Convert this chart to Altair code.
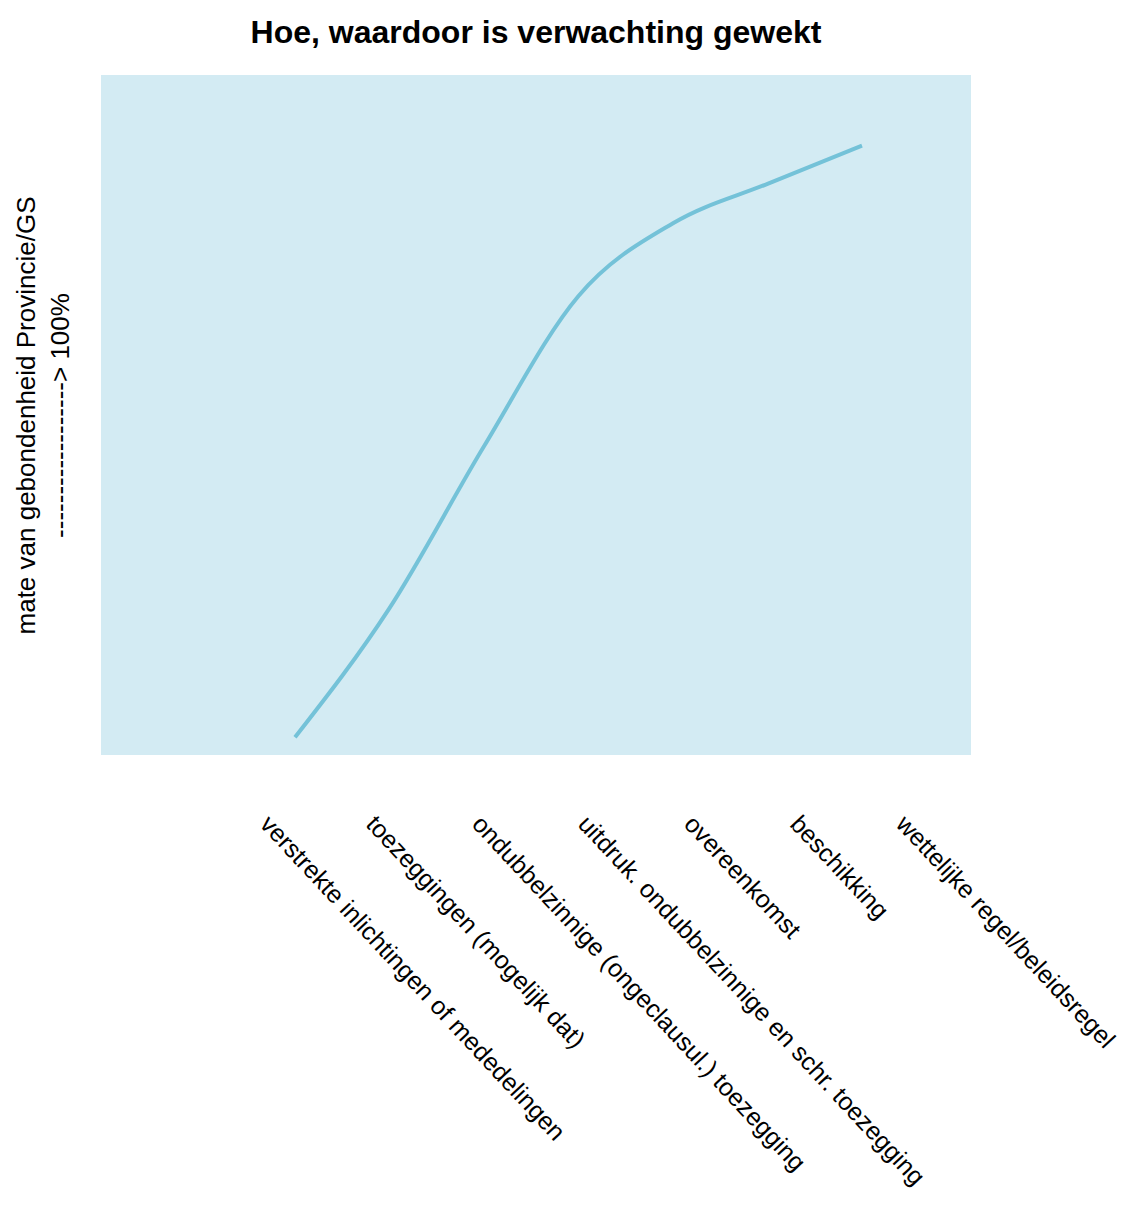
import altair as alt
import pandas as pd

categories = [
    "verstrekte inlichtingen of mededelingen",
    "toezeggingen (mogelijk dat)",
    "ondubbelzinnige (ongeclausul.) toezegging",
    "uitdruk. ondubbelzinnige en schr. toezegging",
    "overeenkomst",
    "beschikking",
    "wettelijke regel/beleidsregel",
]
binding = [2.6, 21.6, 45.4, 67.5, 78.2, 84.0, 89.6]

y_title = ["mate van gebondenheid Provincie/GS", "------------------> 100%"]
chart_title = "Hoe, waardoor is verwachting gewekt"

df = pd.DataFrame({"categorie": categories, "gebondenheid": binding})

FONT = "Liberation Sans"

line = alt.Chart(df).mark_line(
    color="#74c2d8", strokeWidth=4, interpolate="monotone"
).encode(
    x=alt.X("categorie:N", sort=categories,
            scale=alt.Scale(type="point", padding=0, range=[194, 761]),
            axis=None),
    y=alt.Y("gebondenheid:Q", scale=alt.Scale(domain=[0, 100]),
            axis=alt.Axis(title=y_title, labels=False, ticks=False, domain=False,
                          grid=False, titleFontSize=26, titleFont=FONT,
                          titleFontWeight="normal", titleColor="black",
                          titleLineHeight=34, titlePadding=28)),
)

labels = alt.Chart(df).mark_point(opacity=0).encode(
    x=alt.X("categorie:N", sort=categories,
            scale=alt.Scale(type="point", padding=0, range=[172, 808]),
            axis=alt.Axis(title=None, orient="bottom", labelAngle=47,
                          labelAlign="left", labelBaseline="top",
                          labelPadding=56, ticks=False, domain=False, grid=False,
                          labelFontSize=25, labelFont=FONT, labelColor="black",
                          labelLimit=1000, labelOverlap=False)),
)

chart = alt.layer(line, labels).resolve_scale(x="independent").properties(
    width=870,
    height=680,
    padding={"left": 5, "top": 9, "right": 5, "bottom": 5},
    title=alt.TitleParams(chart_title, fontSize=32, font=FONT, fontWeight="bold",
                          color="black", anchor="middle", offset=25),
).configure_view(fill="#d3ebf3", strokeWidth=0)

chart.save("out.html", embed_options={"renderer": "svg", "actions": False})
